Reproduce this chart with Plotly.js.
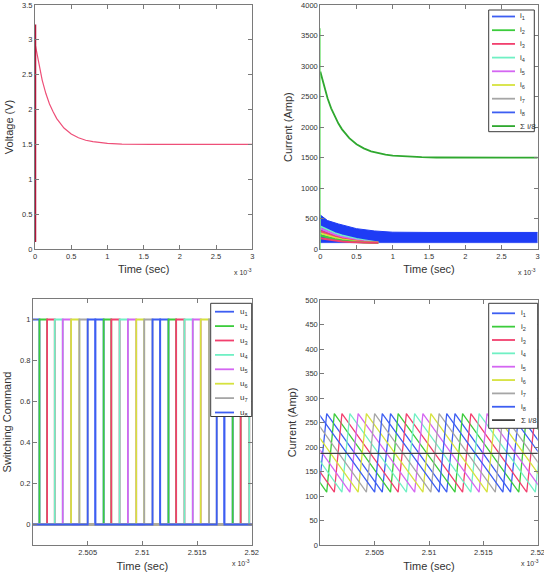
<!DOCTYPE html>
<html><head><meta charset="utf-8">
<script src="https://cdn.plot.ly/plotly-3.0.1.min.js"></script>
<style>html,body{margin:0;padding:0;background:#fff}#chart{width:544px;height:575px}</style>
</head><body><div id="chart"></div>
<script>
// ---------- DATA (time values in units of 1e-3 s) ----------
// Top-left: voltage
const voltTime  = [0, 0.05, 0.1, 0.15, 0.2, 0.25, 0.3, 0.4, 0.5, 0.6, 0.7, 0.8, 0.9, 1.0, 1.2, 1.4, 1.6, 2.0, 2.5, 3.0];
const voltValue = [2.95, 2.66, 2.42, 2.23, 2.08, 1.97, 1.87, 1.735, 1.65, 1.595, 1.56, 1.54, 1.524, 1.515, 1.505, 1.5, 1.5, 1.5, 1.5, 1.5];
const voltSpikeTime  = [0, 0];
const voltSpikeValue = [0.1, 3.22];

// Top-right: total current and phase-current band
const sumTime  = [0, 0.05, 0.1, 0.15, 0.2, 0.25, 0.3, 0.4, 0.5, 0.6, 0.7, 0.8, 0.9, 1.0, 1.2, 1.4, 1.6, 2.0, 2.5, 3.0];
const sumValue = [2910, 2672, 2473, 2309, 2172, 2059, 1964, 1820, 1721, 1653, 1605, 1573, 1550, 1535, 1517, 1508, 1503, 1500, 1500, 1500];
const sumSpikeTime  = [0, 0];
const sumSpikeValue = [0, 3620];
const bandTime  = [0, 0.1, 0.25, 0.5, 0.75, 1.0, 1.5, 2.0, 2.5, 3.0];
const bandUpper = [562, 470, 415, 338, 300, 280, 276, 276, 276, 276];
const bandLower = [108, 108, 108, 108, 108, 108, 108, 108, 108, 108];
const wedgeTime = [0, 0.1, 0.2, 0.3, 0.4, 0.5, 0.6, 0.7, 0.8];
const wedgeCyan    = [375, 318, 265, 225, 195, 168, 148, 128, 112];
const wedgeMagenta = [340, 285, 238, 200, 172, 150, 132, 118, 110];
const wedgeRed     = [300, 252, 210, 178, 154, 136, 122, 112, 108];
const wedgeYellow  = [262, 222, 188, 162, 142, 127, 116, 110, 108];
const wedgeGreen   = [225, 192, 166, 146, 130, 119, 111, 108, 108];
const wedgeRed2    = [180, 160, 142, 128, 118, 111, 108, 108, 108];

// Bottom: switching instants (phase hand-over times) and current levels
const switchTimes = [2.49467, 2.49541, 2.49615, 2.49689, 2.49763, 2.49837, 2.49911, 2.49985,
  2.50059, 2.50129, 2.50199, 2.50272, 2.50348, 2.50424, 2.50500, 2.50570, 2.50646, 2.50716,
  2.50792, 2.50868, 2.50944, 2.51017, 2.51093, 2.51163, 2.51239, 2.51309, 2.51385, 2.51461,
  2.51534, 2.51610, 2.51680, 2.51750, 2.51826, 2.51899, 2.51978,
  2.52052, 2.52126, 2.52200, 2.52274, 2.52348, 2.52422, 2.52496, 2.52570];
const phaseSequence = [2, 3, 4, 5, 6, 7, 8, 1];   // phase switched on at each instant (cyclic)
const iPeak = 268, iTrough = 108;
const meanTime = [2.49, 2.53];
const meanValue = [187, 187];

const phaseNames = ['1','2','3','4','5','6','7','8'];
const phaseColors = ['#3d5ef2', '#3ccc3c', '#f2406e', '#70f0c4', '#d466f2', '#d6e23e', '#a6a6a6', '#3d5ef2'];
const xTicksTop = [0, 0.5, 1, 1.5, 2, 2.5, 3];
const xTicksBottom = [2.505, 2.51, 2.515, 2.52];
const xTickTextBottom = ['2.505', '2.51', '2.515', '2.52'];

// ---------- helpers ----------
const W = 544, H = 575;
const px = v => v / W, py = v => 1 - v / H;
const FONT = 'Liberation Sans, Arial, sans-serif';

function onIntervals(k) {
  const out = [];
  for (let j = 0; j < switchTimes.length; j++) {
    if (phaseSequence[j % 8] === k) out.push([switchTimes[j], switchTimes[j + 1]]);
  }
  return out;
}

const traces = [];
// Top-left
traces.push({x: voltTime, y: voltValue, type: 'scatter', mode: 'lines', line: {color: '#ee4f78', width: 1.2}, xaxis: 'x', yaxis: 'y', showlegend: false});
traces.push({x: voltSpikeTime, y: voltSpikeValue, type: 'scatter', mode: 'lines', line: {color: '#b0143a', width: 2.5}, xaxis: 'x', yaxis: 'y', showlegend: false});
// Top-right
traces.push({x: bandTime, y: bandLower, type: 'scatter', mode: 'lines', line: {color: '#1e3cf5', width: 0.5}, xaxis: 'x2', yaxis: 'y2', showlegend: false});
traces.push({x: bandTime, y: bandUpper, type: 'scatter', mode: 'lines', fill: 'tonexty', fillcolor: '#1e3cf5', line: {color: '#1e3cf5', width: 1}, xaxis: 'x2', yaxis: 'y2', showlegend: false});
[[wedgeCyan, phaseColors[3]], [wedgeMagenta, phaseColors[4]], [wedgeRed, phaseColors[2]], [wedgeYellow, phaseColors[5]], [wedgeGreen, phaseColors[1]], [wedgeRed2, phaseColors[2]]].forEach(([vals, c]) => {
  traces.push({x: wedgeTime, y: vals, type: 'scatter', mode: 'lines', line: {color: c, width: 2}, xaxis: 'x2', yaxis: 'y2', showlegend: false});
});
traces.push({x: sumSpikeTime, y: sumSpikeValue, type: 'scatter', mode: 'lines', line: {color: '#66e066', width: 1.2}, xaxis: 'x2', yaxis: 'y2', showlegend: false});
traces.push({x: sumTime, y: sumValue, type: 'scatter', mode: 'lines', line: {color: '#2fa82f', width: 1.8}, xaxis: 'x2', yaxis: 'y2', showlegend: false});

// Bottom-left switching commands
for (let k = 1; k <= 8; k++) {
  const xs = [switchTimes[0]], ys = [0];
  onIntervals(k).forEach(([a, b]) => {
    if (b === undefined) return;
    xs.push(a, a, b, b); ys.push(0, 1, 1, 0);
  });
  xs.push(switchTimes[switchTimes.length - 1]); ys.push(0);
  traces.push({x: xs, y: ys, type: 'scatter', mode: 'lines', line: {color: phaseColors[k - 1], width: 1.8}, xaxis: 'x3', yaxis: 'y3', showlegend: false});
}
// Bottom-right phase currents
for (let k = 1; k <= 8; k++) {
  const xs = [], ys = [];
  onIntervals(k).forEach(([a, b]) => {
    xs.push(a); ys.push(iTrough);
    if (b !== undefined) { xs.push(b); ys.push(iPeak); }
  });
  traces.push({x: xs, y: ys, type: 'scatter', mode: 'lines', line: {color: phaseColors[k - 1], width: 1.3}, xaxis: 'x4', yaxis: 'y4', showlegend: false});
}
traces.push({x: meanTime, y: meanValue, type: 'scatter', mode: 'lines', line: {color: '#404040', width: 1.4}, xaxis: 'x4', yaxis: 'y4', showlegend: false});

// ---------- layout ----------
const axBase = {
  showline: true, linecolor: '#7a7a7a', linewidth: 1, mirror: 'ticks', ticks: 'inside', ticklen: 4,
  tickcolor: '#7a7a7a', showgrid: false, zeroline: false, fixedrange: true, ticklabeloverflow: 'allow',
  tickfont: {family: FONT, size: 7.5, color: '#333'}
};
const ax = (o, title, standoff) => Object.assign({}, axBase, o, title ? {title: {text: title, standoff: standoff, font: {family: FONT, size: 11, color: '#333'}}} : {});

const layout = {
  width: W, height: H, margin: {l: 0, r: 0, t: 0, b: 0}, paper_bgcolor: '#fff', plot_bgcolor: '#fff',
  showlegend: false, font: {family: FONT},
  xaxis:  ax({domain: [px(35), px(252.3)], range: [0, 3], tickvals: xTicksTop, anchor: 'y'}, 'Time (sec)', 5),
  yaxis:  ax({domain: [py(249), py(5)], range: [0, 3.5], dtick: 0.5, anchor: 'x'}, 'Voltage (V)', 6),
  xaxis2: ax({domain: [px(320.3), px(537.7)], range: [0, 3], tickvals: xTicksTop, anchor: 'y2'}, 'Time (sec)', 5),
  yaxis2: ax({domain: [py(249.3), py(5)], range: [0, 4000], dtick: 500, anchor: 'x2'}, 'Current (Amp)', 6),
  xaxis3: ax({domain: [px(33), px(251.7)], range: [2.5, 2.52], tickvals: xTicksBottom, ticktext: xTickTextBottom, anchor: 'y3'}, 'Time (sec)', 6),
  yaxis3: ax({domain: [py(545), py(299)], range: [-0.1, 1.1], tickvals: [0, 0.2, 0.4, 0.6, 0.8, 1], anchor: 'x3'}, 'Switching Command', 6),
  xaxis4: ax({domain: [px(320.3), px(537.7)], range: [2.5, 2.52], tickvals: xTicksBottom, ticktext: xTickTextBottom, anchor: 'y4'}, 'Time (sec)', 6),
  yaxis4: ax({domain: [py(545), py(300)], range: [0, 500], dtick: 50, anchor: 'x4'}, 'Current (Amp)', 6),
  shapes: [], annotations: []
};

// exponent labels
[[243, 272], [527, 272], [241, 563], [530, 563]].forEach(([x, y]) => {
  layout.annotations.push({xref: 'paper', yref: 'paper', x: px(x), y: py(y), text: 'x 10<sup>-3</sup>', showarrow: false,
    font: {family: FONT, size: 7, color: '#333'}, xanchor: 'center', yanchor: 'middle'});
});

// legends (box, sample lines, labels)
function addLegend(box, rowY0, rowStep, sx0, sx1, tx, entries) {
  layout.shapes.push({type: 'rect', xref: 'paper', yref: 'paper', x0: px(box[0]), x1: px(box[1]), y0: py(box[2]), y1: py(box[3]),
    fillcolor: '#fff', line: {color: '#3a3a3a', width: 1}, layer: 'above'});
  entries.forEach((e, i) => {
    const y = rowY0 + i * rowStep;
    layout.shapes.push({type: 'line', xref: 'paper', yref: 'paper', x0: px(sx0), x1: px(sx1), y0: py(y), y1: py(y),
      line: {color: e.color, width: 1.8}, layer: 'above'});
    layout.annotations.push({xref: 'paper', yref: 'paper', x: px(tx), y: py(y), text: e.label, showarrow: false,
      xanchor: 'left', yanchor: 'middle', font: {family: FONT, size: 8, color: '#333'}});
  });
}
const iEntries = phaseNames.map((n, i) => ({label: 'i<sub>' + n + '</sub>', color: phaseColors[i]}));
const uEntries = phaseNames.map((n, i) => ({label: 'u<sub>' + n + '</sub>', color: phaseColors[i]}));
addLegend([488.7, 534.3, 10, 131.7], 16.5, 13.7, 492, 515, 518, iEntries.concat([{label: '\u03A3 i/8', color: '#2fa82f'}]));
addLegend([210.7, 251.7, 303.3, 416.5], 311.7, 14.4, 215, 234, 238, uEntries);
addLegend([488.7, 537.7, 303.3, 428.3], 313.3, 13.35, 492, 515, 519, iEntries.concat([{label: '\u03A3 i/8', color: '#404040'}]));

Plotly.newPlot('chart', traces, layout, {staticPlot: true, displayModeBar: false});
</script>
</body></html>
